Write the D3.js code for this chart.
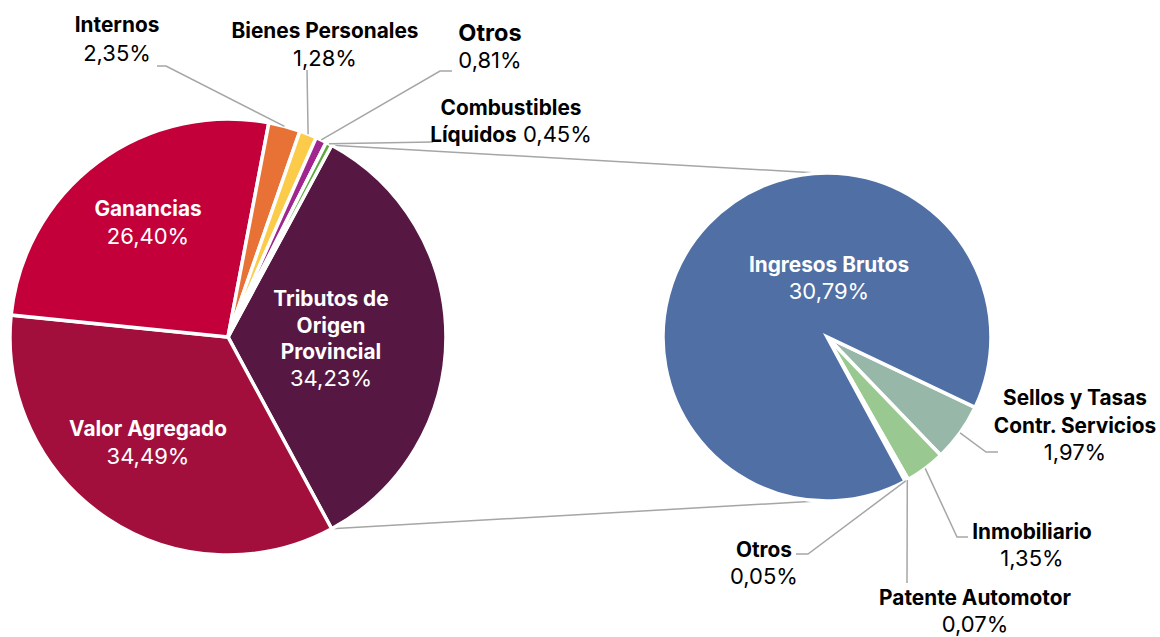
<!DOCTYPE html>
<html>
<head>
<meta charset="utf-8">
<script src="https://cdn.jsdelivr.net/npm/d3@7"></script>
<style>
  html, body { margin: 0; padding: 0; background: #fff; }
  svg { font-family: Inter, "Noto Sans", sans-serif; }
</style>
</head>
<body>
<div id="chart"></div>
<script>
// main pie (clockwise from the split slice)
var mainNames = ["Tributos de Origen Provincial", "Valor Agregado", "Ganancias", "Internos", "Bienes Personales", "Otros", "Combustibles Líquidos"];
var mainValues = [34.23, 34.49, 26.40, 2.35, 1.28, 0.81, 0.45];
var mainColors = ["#561843", "#A30F3C", "#C4003A", "#E87136", "#FCCB4A", "#A0258D", "#5BA83C"];

// secondary pie (breakdown of Tributos de Origen Provincial)
var subNames = ["Sellos y Tasas Contr. Servicios", "Inmobiliario", "Patente Automotor", "Otros", "Ingresos Brutos"];
var subValues = [1.97, 1.35, 0.07, 0.05, 30.79];
var subColors = ["#97B8A8", "#99C991", "#8FBC8F", "#6FA86A", "#4F6FA5"];

var width = 1160, height = 637;
var fmt = function(v) { return d3.format(".2f")(v).replace(".", ",") + "%"; };
var deg = Math.PI / 180;

var svg = d3.select("#chart").append("svg")
    .attr("width", width)
    .attr("height", height);

var left = { cx: 228, cy: 337, r: 218, start: 28.4 * deg };
var right = { cx: 827, cy: 337, r: 164, start: 115.4 * deg };

function pieArcs(values, cfg) {
    return d3.pie().sort(null).value(d => d)
        .startAngle(cfg.start).endAngle(cfg.start + 2 * Math.PI)(values);
}

var mainArcs = pieArcs(mainValues, left);
var subArcs = pieArcs(subValues, right);

function edgePoint(cfg, a, rr) {
    var r = rr || cfg.r;
    return [cfg.cx + r * Math.sin(a), cfg.cy - r * Math.cos(a)];
}

// connector lines between the pies
var split = mainArcs[0];
var connectors = [
    [edgePoint(left, split.startAngle), [right.cx - 10, right.cy - right.r]],
    [edgePoint(left, split.endAngle), [right.cx - 10, right.cy + right.r]]
];
svg.append("g").selectAll("line")
    .data(connectors)
    .join("line")
    .attr("x1", d => d[0][0]).attr("y1", d => d[0][1])
    .attr("x2", d => d[1][0]).attr("y2", d => d[1][1])
    .attr("stroke", "#A6A6A6")
    .attr("stroke-width", 1.5);

function drawPie(arcs, cfg, colors) {
    var arc = d3.arc().innerRadius(0).outerRadius(cfg.r);
    svg.append("g")
        .attr("transform", "translate(" + cfg.cx + "," + cfg.cy + ")")
        .selectAll("path")
        .data(arcs)
        .join("path")
        .attr("d", arc)
        .attr("fill", (d, i) => colors[i])
        .attr("stroke", "#fff")
        .attr("stroke-width", 3.5)
        .attr("stroke-linejoin", "miter");
}
drawPie(mainArcs, left, mainColors);
drawPie(subArcs, right, subColors);

// label placement: lines of text, and leader elbows for outside labels
var mainLabels = [
    { x: 331, lines: [["Tributos de"], ["Origen"], ["Provincial"], [null]], y: 298, dy: 26.7, fill: "#fff" },
    { x: 148, lines: [["Valor Agregado"], [null]], y: 428, dy: 28, fill: "#fff" },
    { x: 148, lines: [["Ganancias"], [null]], y: 208, dy: 28, fill: "#fff" },
    { x: 117, lines: [["Internos"], [null]], y: 24, dy: 29, fill: "#000", leader: [[166, 66], [157, 66]] },
    { x: 325, lines: [["Bienes Personales"], [null]], y: 30, dy: 28, fill: "#000", leader: [[307, 70]] },
    { x: 490, lines: [["Otros"], [null]], y: 32, dy: 28, fill: "#000", big: true, leader: [[440, 71], [452, 71]] },
    { x: 511, lines: [["Combustibles"], ["Líquidos", null]], y: 107, dy: 27, fill: "#000", leader: [[433, 142]] }
];
var subLabels = [
    { x: 1075, lines: [["Sellos y Tasas"], ["Contr. Servicios"], [null]], y: 397, dy: 27.5, fill: "#000", leader: [[986, 452], [998, 452]] },
    { x: 1032, lines: [["Inmobiliario"], [null]], y: 531, dy: 27, fill: "#000", leader: [[957, 537], [968, 537]] },
    { x: 975, lines: [["Patente Automotor"], [null]], y: 597, dy: 26.5, fill: "#000", leader: [[907, 583]] },
    { x: 764, lines: [["Otros"], [null]], y: 549, dy: 27, fill: "#000", leader: [[808, 554], [796, 554]] },
    { x: 829, lines: [["Ingresos Brutos"], [null]], y: 264, dy: 27, fill: "#fff" }
];

function drawLabels(arcs, cfg, labels, values) {
    var g = svg.append("g");
    labels.forEach(function(lb, i) {
        var a = arcs[i];
        if (lb.leader) {
            var start = edgePoint(cfg, (a.startAngle + a.endAngle) / 2);
            g.append("path")
                .attr("d", d3.line()([start].concat(lb.leader)))
                .attr("fill", "none")
                .attr("stroke", "#A6A6A6")
                .attr("stroke-width", 1.5);
        }
        lb.lines.forEach(function(parts, j) {
            var t = g.append("text")
                .attr("x", lb.x)
                .attr("y", lb.y + j * lb.dy)
                .attr("text-anchor", "middle")
                .attr("dominant-baseline", "central")
                .attr("fill", lb.fill);
            parts.forEach(function(p, k) {
                var isValue = p === null;
                t.append("tspan")
                    .text((k > 0 ? " " : "") + (isValue ? fmt(values[i]) : p))
                    .attr("font-weight", isValue ? 400 : 700)
                    .attr("font-size", isValue ? 22 : (lb.big ? 23.5 : 20.8));
            });
        });
    });
}
drawLabels(mainArcs, left, mainLabels, mainValues);
drawLabels(subArcs, right, subLabels, subValues);
</script>
</body>
</html>
